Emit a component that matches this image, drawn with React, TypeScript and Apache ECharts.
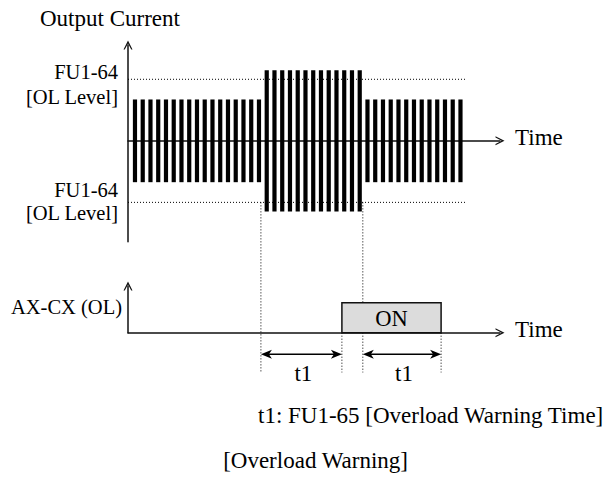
import { useEffect, useRef } from "react";
import * as echarts from "echarts";

// Amplitude of every current pulse (normal load, overload, normal load)
const pulseAmplitude = [
  0.41, 0.41, 0.41, 0.41, 0.41, 0.41, 0.41, 0.41, 0.41, 0.41, 0.41, 0.41, 0.41, 0.41, 0.41, 0.41, 0.41,
  0.7, 0.7, 0.7, 0.7, 0.7, 0.7, 0.7, 0.7, 0.7, 0.7, 0.7, 0.7, 0.7,
  0.41, 0.41, 0.41, 0.41, 0.41, 0.41, 0.41, 0.41, 0.41, 0.41, 0.41, 0.41, 0.41,
];
const pulseOffset = 0.9; // time of the first pulse
const olLevel = 0.61; // FU1-64 OL level
const olLineEnd = 43.5;
const timeMax = 48;
const overloadStart = 17.15;
const overloadEnd = 30.3;
const onStart = 27.6;
const onEnd = 40.4;
const onLevel = 0.64;
const dimRow = -0.46;
const guideBottom = -0.85;

const FONT = '"Liberation Serif", "Times New Roman", serif';
const arrowPath = "path://M0,10 L5,0 L10,10 L8.6,10 L5,3.2 L1.4,10 Z";

export default function App() {
  const ref = useRef<HTMLDivElement>(null);
  useEffect(() => {
    if (!ref.current) return;
    const chart = echarts.init(ref.current, undefined, { renderer: "svg" });
    const axisLine = {
      show: true,
      onZero: true,
      symbol: ["none", arrowPath],
      symbolSize: [9, 9],
      lineStyle: { color: "#111", width: 1.5 },
    };
    const hidden = {
      axisTick: { show: false },
      axisLabel: { show: false },
      splitLine: { show: false },
    };
    const dotted = { type: [1, 2] as any, width: 1, color: "#000" };
    chart.setOption({
      animation: false,
      backgroundColor: "#fff",
      grid: [
        { left: 128, top: 45, width: 372, height: 196.7 },
        { left: 128, top: 286, width: 372, height: 46.7 },
      ],
      xAxis: [
        { type: "value", gridIndex: 0, min: 0, max: timeMax, axisLine, ...hidden },
        { type: "value", gridIndex: 1, min: 0, max: timeMax, axisLine, ...hidden },
      ],
      yAxis: [
        { type: "value", gridIndex: 0, min: -1, max: 0.95, axisLine, ...hidden },
        { type: "value", gridIndex: 1, min: 0, max: 1, axisLine, ...hidden },
      ],
      series: [
        {
          type: "line",
          xAxisIndex: 0,
          yAxisIndex: 0,
          data: [
            [0, olLevel],
            [olLineEnd, olLevel],
          ],
          symbol: "none",
          silent: true,
          lineStyle: dotted,
          z: 1,
        },
        {
          type: "line",
          xAxisIndex: 0,
          yAxisIndex: 0,
          data: [
            [0, -olLevel],
            [olLineEnd, -olLevel],
          ],
          symbol: "none",
          silent: true,
          lineStyle: dotted,
          z: 1,
        },
        {
          type: "custom",
          xAxisIndex: 0,
          yAxisIndex: 0,
          silent: true,
          z: 2,
          data: pulseAmplitude.map((a, i) => [i + pulseOffset, a]),
          renderItem: (_p: any, api: any) => {
            const x = api.value(0);
            const a = api.value(1);
            const top = api.coord([x, a]);
            const bot = api.coord([x, -a]);
            return {
              type: "rect",
              shape: { x: top[0] - 2.1, y: top[1], width: 4.2, height: bot[1] - top[1] },
              style: { fill: "#000" },
            };
          },
        },
        {
          type: "custom",
          xAxisIndex: 1,
          yAxisIndex: 1,
          silent: true,
          z: 3,
          data: [[onStart, onEnd, onLevel]],
          renderItem: (_p: any, api: any) => {
            const a = api.coord([api.value(0), api.value(2)]);
            const b = api.coord([api.value(1), 0]);
            return {
              type: "group",
              children: [
                {
                  type: "rect",
                  shape: { x: a[0], y: a[1], width: b[0] - a[0], height: b[1] - a[1] },
                  style: { fill: "#dcdcdc", stroke: "#111", lineWidth: 1.5 },
                },
                {
                  type: "text",
                  x: (a[0] + b[0]) / 2,
                  y: (a[1] + b[1]) / 2 + 0.5,
                  style: {
                    text: "ON",
                    fontSize: 22.5,
                    fontFamily: FONT,
                    fill: "#000",
                    align: "center",
                    verticalAlign: "middle",
                  },
                },
              ],
            };
          },
        },
      ],
    });

    const p = (g: number, v: number[]) =>
      chart.convertToPixel({ gridIndex: g } as any, v) as unknown as number[];
    const dotLine = (x: number, y1: number, y2: number) => ({
      type: "line",
      shape: { x1: x, y1, x2: x, y2 },
      style: { stroke: "#000", lineWidth: 1, lineDash: [1, 2] },
      silent: true,
    });
    const text = (t: string, x: number, y: number, align: string, size = 23) => ({
      type: "text",
      x,
      y,
      style: {
        text: t,
        fontSize: size,
        fontFamily: FONT,
        fill: "#000",
        align,
        verticalAlign: "middle",
      },
      silent: true,
    });
    const dimArrow = (xa: number, xb: number, y: number) => [
      {
        type: "line",
        shape: { x1: xa + 4, y1: y, x2: xb - 4, y2: y },
        style: { stroke: "#000", lineWidth: 1.5 },
      },
      {
        type: "polygon",
        shape: { points: [[xa, y], [xa + 11, y - 4.5], [xa + 8, y], [xa + 11, y + 4.5]] },
        style: { fill: "#000" },
      },
      {
        type: "polygon",
        shape: { points: [[xb, y], [xb - 11, y - 4.5], [xb - 8, y], [xb - 11, y + 4.5]] },
        style: { fill: "#000" },
      },
    ];

    const bottomY = p(1, [0, guideBottom])[1];
    const zeroY1 = p(1, [0, 0])[1];
    const boxTopY = p(1, [0, onLevel])[1];
    const olLowY = p(0, [0, -olLevel])[1];
    const olHighY = p(0, [0, olLevel])[1];
    const xs = p(0, [overloadStart, 0])[0];
    const xe = p(0, [overloadEnd, 0])[0];
    const xOn = p(1, [onStart, 0])[0];
    const xOff = p(1, [onEnd, 0])[0];
    const dimY = p(1, [0, dimRow])[1];
    const axisX = p(0, [0, 0])[0];
    const upperTop = p(0, [0, 0.95])[1];
    const upperZero = p(0, [0, 0])[1];
    const lowerTop = p(1, [0, 1])[1];
    const axisEnd = p(0, [timeMax, 0])[0];

    chart.setOption({
      graphic: [
        dotLine(xs, olLowY, bottomY),
        dotLine(xe, olLowY, boxTopY),
        dotLine(xe, zeroY1, bottomY),
        dotLine(xOn, zeroY1, bottomY),
        dotLine(xOff, zeroY1, bottomY),
        ...dimArrow(xs, xOn, dimY),
        ...dimArrow(xe, xOff, dimY),
        text("t1", (xs + xOn) / 2 + 2, dimY + 19, "center"),
        text("t1", (xe + xOff) / 2 + 2, dimY + 19, "center"),
        text("Output Current", axisX - 88, upperTop - 26.5, "left"),
        text("FU1-64", axisX - 10, olHighY - 7, "right", 20.5),
        text("[OL Level]", axisX - 10, olHighY + 18, "right", 20.5),
        text("FU1-64", axisX - 10, olLowY - 12, "right", 20.5),
        text("[OL Level]", axisX - 10, olLowY + 11, "right", 20.5),
        text("Time", axisEnd + 15, upperZero - 3.5, "left"),
        text("AX-CX (OL)", axisX - 6, lowerTop + 20.5, "right", 20.5),
        text("Time", axisEnd + 15, zeroY1 - 3, "left"),
        text("t1: FU1-65 [Overload Warning Time]", 258, 415, "left"),
        text("[Overload Warning]", 408, 460, "right"),
      ],
    });
    return () => chart.dispose();
  }, []);
  return (
    <div
      ref={ref}
      style={{ position: "fixed", left: 0, top: 0, width: 614, height: 482, background: "#fff" }}
    />
  );
}
